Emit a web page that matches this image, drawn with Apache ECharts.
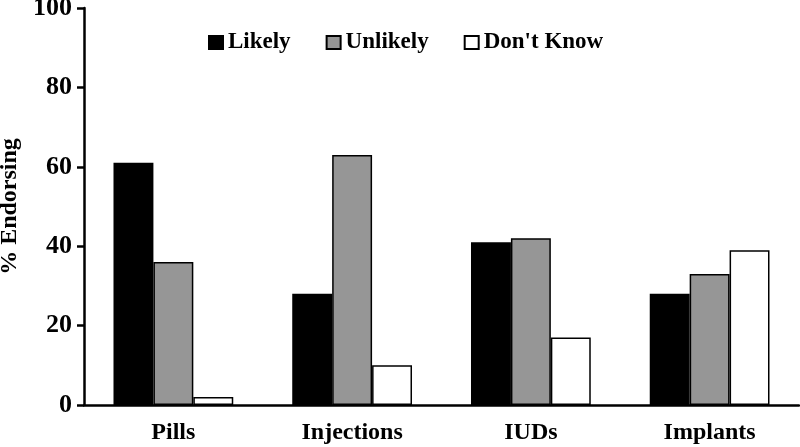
<!DOCTYPE html>
<html>
<head>
<meta charset="utf-8">
<script src="https://cdn.jsdelivr.net/npm/echarts@6/dist/echarts.min.js"></script>
<style>
html,body{margin:0;padding:0;background:#fff;}
#chart{width:800px;height:447px;}
</style>
</head>
<body>
<div id="chart"></div>
<script>
const categories = ['Pills', 'Injections', 'IUDs', 'Implants'];
const likely = [61, 28, 41, 28];
const unlikely = [36, 63, 42, 33];
const dontKnow = [2, 10, 17, 39];
const seriesNames = ['Likely', 'Unlikely', "Don't Know"];
const yTicks = [0, 20, 40, 60, 80, 100];

const font = '"Liberation Serif", "Times New Roman", serif';
const chart = echarts.init(document.getElementById('chart'), null, {renderer: 'canvas'});
const colors = ['#000000', '#969696', '#ffffff'];
const data = [likely, unlikely, dontKnow];

chart.setOption({
  animation: false,
  backgroundColor: '#fff',
  grid: {left: 84, right: 1, top: 8, bottom: 42, containLabel: false, outerBoundsMode: 'none'},
  legend: {
    left: 208, top: 31, padding: 0,
    itemWidth: 14, itemHeight: 13, itemGap: 35,
    icon: 'rect',
    textStyle: {fontFamily: font, fontWeight: 'bold', fontSize: 23, color: '#000', padding: [0, 0, 0, 0]},
    data: seriesNames
  },
  xAxis: {
    type: 'category',
    data: categories,
    axisLine: {lineStyle: {color: '#000', width: 2.5}},
    axisTick: {show: false},
    axisLabel: {fontFamily: font, fontWeight: 'bold', fontSize: 24, color: '#000', margin: 16}
  },
  yAxis: {
    type: 'value',
    min: yTicks[0], max: yTicks[yTicks.length - 1], interval: 20,
    name: '% Endorsing',
    nameLocation: 'middle',
    nameGap: 58,
    nameTextStyle: {fontFamily: font, fontWeight: 'bold', fontSize: 24, color: '#000'},
    axisLine: {show: true, lineStyle: {color: '#000', width: 2.5}},
    axisTick: {show: true, length: 7, lineStyle: {color: '#000', width: 2.5}},
    splitLine: {show: false},
    axisLabel: {fontFamily: font, fontWeight: 'bold', fontSize: 26, color: '#000', margin: 12}
  },
  series: seriesNames.map((n, i) => ({
    name: n,
    type: 'bar',
    data: data[i],
    barGap: '0%',
    barCategoryGap: '33%',
    itemStyle: {color: colors[i], borderColor: '#000', borderWidth: 1.5}
  }))
});
</script>
</body>
</html>
